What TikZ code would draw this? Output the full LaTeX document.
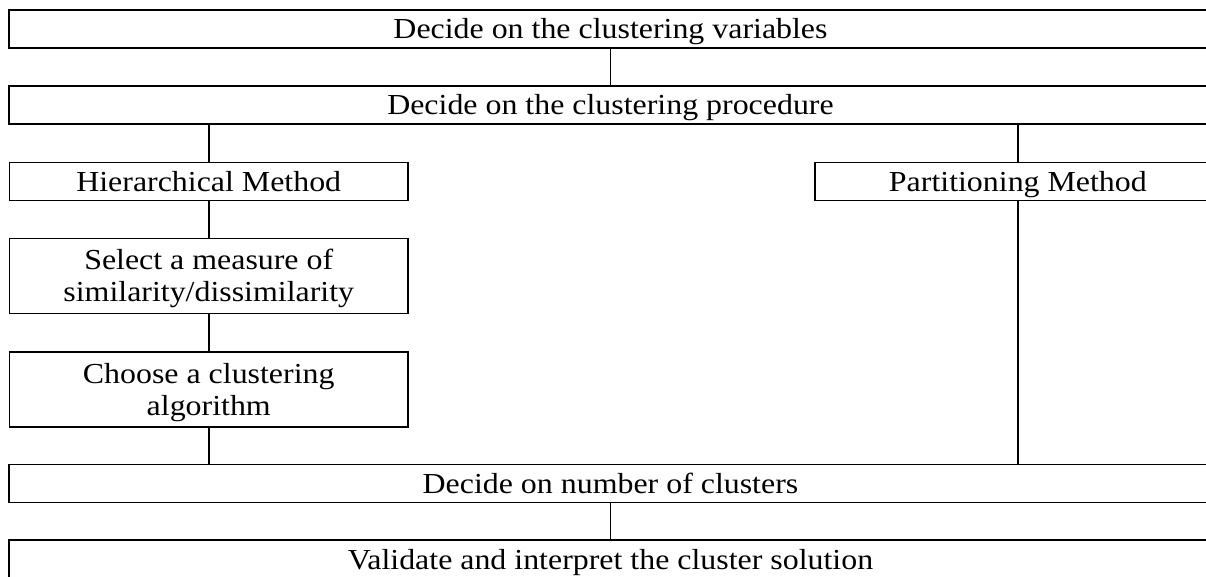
\documentclass[tikz,border=0pt]{standalone}
\usepackage{fontspec}
\setmainfont{Liberation Serif}[FakeStretch=1.1]
\usetikzlibrary{calc}

\tikzset{
  stage/.style={draw, line width=1.7pt, rectangle, inner sep=0pt, minimum height=38pt, text height=22pt, text depth=2pt, font=\fontsize{29}{32}\selectfont, align=center},
  widestage/.style={stage, minimum width=1203pt},
  halfstage/.style={stage, minimum width=398.5pt},
  twoline/.style={halfstage, minimum height=75pt, text height=54pt},
  link/.style={line width=1.7pt}
}

\begin{document}
\begin{tikzpicture}[x=1pt, y=-1pt]
\useasboundingbox (0,0) rectangle (1206,577);
\clip (0,0) rectangle (1206,577);

% Common steps across the full width
\node[widestage] (vars) at (610.5, 28.9) {Decide on the clustering variables};
\node[widestage] (proc) at (610.5, 104.9) {Decide on the clustering procedure};

% Two methods
\node[halfstage] (hier) at (208.75, 181.4) {Hierarchical Method};
\node[stage, minimum width=406pt] (part) at (1017.9, 181.4) {Partitioning Method};

% Hierarchical branch steps
\node[twoline] (measure) at (208.75, 275.9) {Select a measure of\\similarity/dissimilarity};
\node[twoline] (algo) at (208.75, 389.4) {Choose a clustering\\algorithm};

% Final steps
\node[widestage] (number) at (610.5, 483.5) {Decide on number of clusters};
\node[widestage] (validate) at (610.5, 559.3) {Validate and interpret the cluster solution};

% Connectors
\draw[link] (vars) -- (proc);
\draw[link] (hier.north) -- (hier.north |- proc.south);
\draw[link] (part.north) -- (part.north |- proc.south);
\draw[link] (hier) -- (measure);
\draw[link] (measure) -- (algo);
\draw[link] (algo.south) -- (algo.south |- number.north);
\draw[link] (part.south) -- (part.south |- number.north);
\draw[link] (number) -- (validate);

\end{tikzpicture}
\end{document}
